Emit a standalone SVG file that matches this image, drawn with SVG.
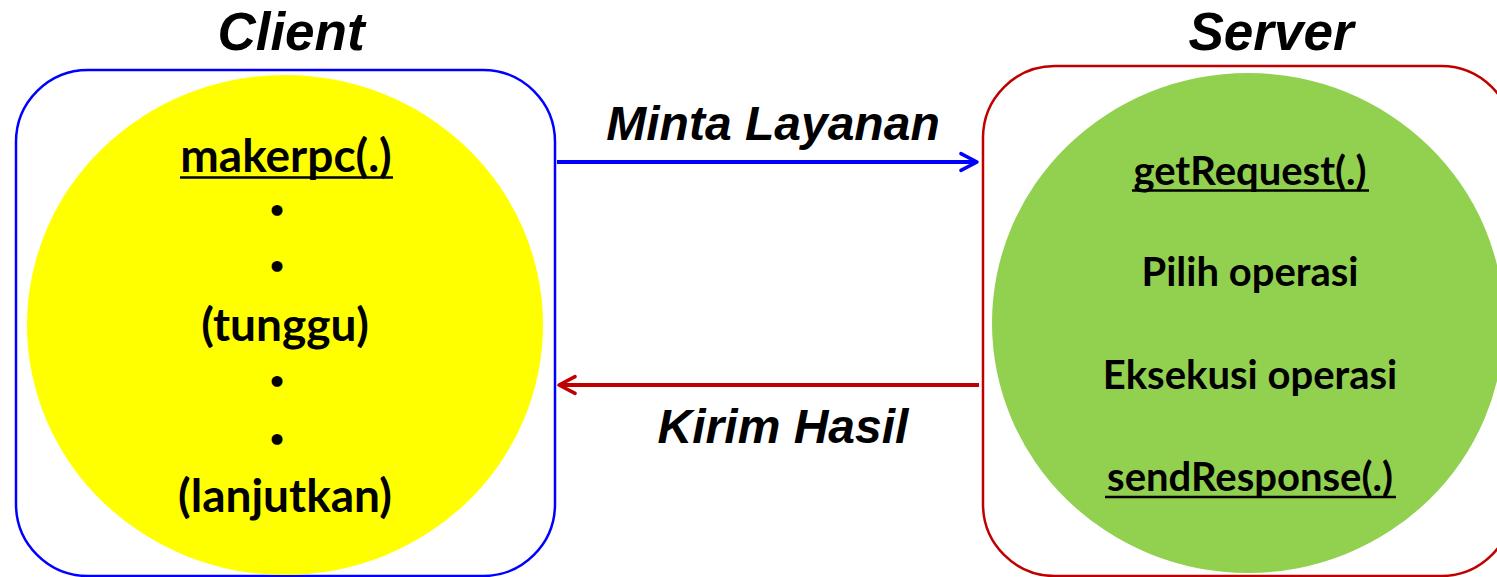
<svg xmlns="http://www.w3.org/2000/svg" width="1497" height="577" viewBox="0 0 1497 577">
<style>
.title{font-family:"Liberation Sans",Arial,sans-serif;font-weight:bold;font-style:italic;font-size:53px;fill:#000;text-anchor:middle}
.lbl{font-family:"Liberation Sans",Arial,sans-serif;font-weight:bold;font-style:italic;font-size:48px;fill:#000;text-anchor:middle}
.in{font-family:Lato,"Open Sans",sans-serif;font-weight:bold;font-size:46px;fill:#000;text-anchor:middle}
.sv{font-size:40px}
.dot{font-family:Lato,"Open Sans",sans-serif;font-weight:bold;font-size:25px;fill:#000;text-anchor:middle}
.ul{stroke:#000;stroke-width:2.5}
</style>
<defs>
<marker id="ab" viewBox="0 0 10 10" refX="8.5" refY="5" markerWidth="5.5" markerHeight="5.5" orient="auto" markerUnits="strokeWidth">
<path d="M1.2,1.2 L8.5,5 L1.2,8.8" fill="none" stroke="#0000ff" stroke-width="1.6" stroke-linecap="round" stroke-linejoin="round"/>
</marker>
<marker id="ar" viewBox="0 0 10 10" refX="8.5" refY="5" markerWidth="5.5" markerHeight="5.5" orient="auto" markerUnits="strokeWidth">
<path d="M1.2,1.2 L8.5,5 L1.2,8.8" fill="none" stroke="#c00000" stroke-width="1.6" stroke-linecap="round" stroke-linejoin="round"/>
</marker>
</defs>
<rect width="1497" height="577" fill="#fff"/>
<g id="client">
<text class="title" x="291" y="50">Client</text>
<rect x="16" y="70" width="539" height="506" rx="72" ry="72" fill="#fff" stroke="#0000ff" stroke-width="2.5"/>
<ellipse cx="285" cy="325" rx="258" ry="250" fill="#ffff00"/>
<text class="in" x="286" y="172">makerpc(.)</text>
<line class="ul" x1="180" y1="177.5" x2="393" y2="177.5"/>
<text class="dot" x="277" y="218">•</text>
<text class="dot" x="277" y="274">•</text>
<text class="in" x="285" y="341">(tunggu)</text>
<text class="dot" x="277" y="389">•</text>
<text class="dot" x="277" y="447">•</text>
<text class="in" x="285" y="512">(lanjutkan)</text>
</g>
<g id="server">
<text class="title" x="1271" y="50">Server</text>
<rect x="983" y="66" width="530" height="510" rx="72" ry="72" fill="#fff" stroke="#c00000" stroke-width="2.5"/>
<ellipse cx="1248" cy="323" rx="256" ry="250" fill="#92d050"/>
<text class="in sv" x="1250" y="185">getRequest(.)</text>
<line class="ul" x1="1132" y1="190.5" x2="1369" y2="190.5"/>
<text class="in sv" x="1250" y="286">Pilih operasi</text>
<text class="in sv" x="1250" y="389">Eksekusi operasi</text>
<text class="in sv" x="1250" y="491">sendResponse(.)</text>
<line class="ul" x1="1105" y1="497" x2="1396" y2="497"/>
</g>
<g id="connectors">
<line x1="557" y1="162" x2="977" y2="162" stroke="#0000ff" stroke-width="4" marker-end="url(#ab)"/>
<text class="lbl" x="773" y="140">Minta Layanan</text>
<line x1="979" y1="385" x2="559" y2="385" stroke="#c00000" stroke-width="4" marker-end="url(#ar)"/>
<text class="lbl" x="783" y="443">Kirim Hasil</text>
</g>
</svg>
